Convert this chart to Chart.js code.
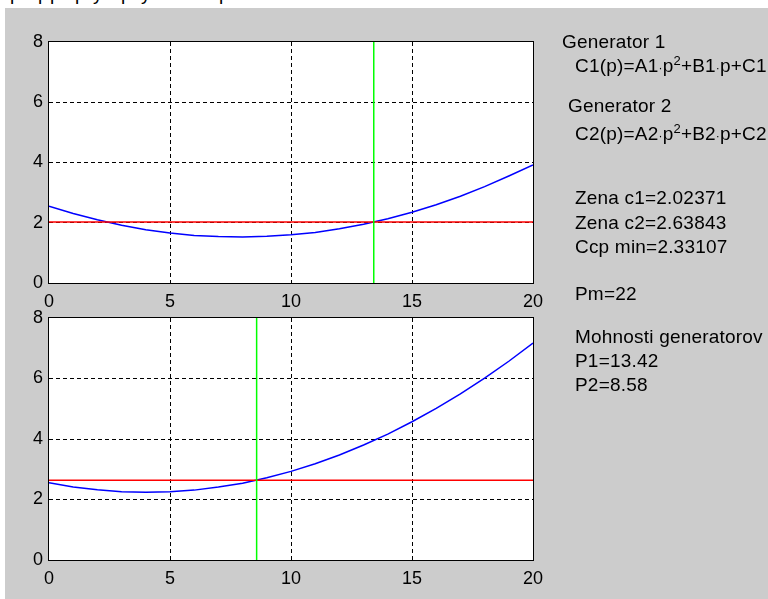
<!DOCTYPE html>
<html><head><meta charset="utf-8">
<script src="https://cdn.jsdelivr.net/npm/chart.js@4.4.1/dist/chart.umd.min.js"></script>
<style>
html,body{margin:0;padding:0;background:#fff;width:768px;height:599px;overflow:hidden;position:relative;}
#bg{position:absolute;left:5px;top:8px;width:763px;height:591px;background:#cccccc;}
canvas{position:absolute;left:0;top:0;}
.t{position:absolute;font-family:Arial,"Liberation Sans",sans-serif;font-size:19px;line-height:19px;letter-spacing:0.2px;color:#000;white-space:nowrap;}
.sup{position:relative;top:-7px;font-size:13px;}
.dot{font-size:12px;}
#cut{position:absolute;left:0;top:0;width:768px;height:8px;overflow:hidden;}
#cut span{position:absolute;top:-16px;font-family:Arial,"Liberation Sans",sans-serif;font-size:19px;line-height:19px;color:#000;}
</style></head><body>
<div id="bg"></div>
<div id="cut"><span style="left:10px">p</span><span style="left:38px">p</span><span style="left:50px">p</span><span style="left:75px">p</span><span style="left:93px">y</span><span style="left:121px">p</span><span style="left:141px">y</span><span style="left:219px">p</span></div>
<canvas id="c1" width="768" height="599" style="width:768px;height:599px"></canvas>
<canvas id="c2" width="768" height="599" style="width:768px;height:599px"></canvas>
<div class="t" style="left:562px;top:32.2px">Generator 1</div>
<div class="t" style="left:575px;top:55.6px">C1(p)=A1<span class="dot">·</span>p<span class="sup">2</span>+B1<span class="dot">·</span>p+C1</div>
<div class="t" style="left:568px;top:95.6px">Generator 2</div>
<div class="t" style="left:575px;top:123.9px">C2(p)=A2<span class="dot">·</span>p<span class="sup">2</span>+B2<span class="dot">·</span>p+C2</div>
<div class="t" style="left:575px;top:188.2px">Zena c1=2.02371</div>
<div class="t" style="left:575px;top:213.2px">Zena c2=2.63843</div>
<div class="t" style="left:575px;top:237.2px">Ccp min=2.33107</div>
<div class="t" style="left:575px;top:283.9px">Pm=22</div>
<div class="t" style="left:575px;top:327.2px">Mohnosti generatorov</div>
<div class="t" style="left:575px;top:350.6px">P1=13.42</div>
<div class="t" style="left:575px;top:374.6px">P2=8.58</div>
<script>
// ---- data ----
const pValues = [0,1,2,3,4,5,6,7,8,9,10,11,12,13,14,15,16,17,18,19,20];
const gen1Cost = [2.55,2.31,2.10,1.92,1.77,1.66,1.58,1.54,1.53,1.55,1.60,1.68,1.80,1.95,2.13,2.35,2.60,2.88,3.20,3.55,3.92];
const gen2Cost = [2.55,2.41,2.32,2.26,2.24,2.26,2.31,2.41,2.54,2.72,2.93,3.18,3.47,3.80,4.16,4.57,5.01,5.49,6.01,6.57,7.17];
const xTicks = [0,5,10,15,20];
const yTicks = [0,2,4,6,8];
const power1 = 13.42, power2 = 8.58;
const price1 = 2.02371, price2 = 2.63843;

Chart.defaults.font.family = 'Arial, "Liberation Sans", sans-serif';
Chart.defaults.font.size = 18;
Chart.defaults.color = '#000';

const areaPlugin = {
  id: 'area',
  beforeDraw(chart) {
    const a = chart.chartArea, ctx = chart.ctx;
    ctx.save(); ctx.fillStyle = '#fff';
    ctx.fillRect(a.left, a.top, a.right - a.left, a.bottom - a.top);
    ctx.restore();
  },
  afterDraw(chart) {
    const a = chart.chartArea, ctx = chart.ctx;
    ctx.save(); ctx.strokeStyle = '#000'; ctx.lineWidth = 1;
    ctx.strokeRect(a.left - 0.5, a.top - 0.5, a.right - a.left + 1, a.bottom - a.top + 1);
    ctx.restore();
  }
};

function gridColor(ctx, lo, hi) {
  const v = ctx.tick ? ctx.tick.value : null;
  return (v === lo || v === hi) ? 'rgba(0,0,0,0)' : '#000';
}

function makeChart(id, costs, power, price, padTop, padBottom) {
  const xMin = xTicks[0], xMax = xTicks[xTicks.length - 1];
  const yMin = yTicks[0], yMax = yTicks[yTicks.length - 1];
  return new Chart(document.getElementById(id), {
    type: 'line',
    data: {
      datasets: [
        { data: pValues.map((p, i) => ({ x: p, y: costs[i] })), borderColor: '#0000ff', borderWidth: 1.5, pointRadius: 0, tension: 0, order: 2 },
        { data: [{ x: xMin, y: price }, { x: xMax, y: price }], borderColor: '#ff0000', borderWidth: 1.5, pointRadius: 0, order: 1 },
        { data: [{ x: power, y: yMin }, { x: power, y: yMax }], borderColor: '#00ff00', borderWidth: 1.5, pointRadius: 0, order: 0 }
      ]
    },
    options: {
      responsive: false, animation: false, events: [],
      layout: { padding: { top: padTop, left: 0, right: 235, bottom: padBottom } },
      plugins: { legend: { display: false }, tooltip: { enabled: false } },
      scales: {
        x: {
          type: 'linear', min: xMin, max: xMax,
          afterBuildTicks: s => { s.ticks = xTicks.map(v => ({ value: v })); },
          afterFit: s => { s.height = 30; },
          ticks: { padding: 8, maxRotation: 0, autoSkip: false, color: '#000' },
          grid: { drawTicks: false, lineWidth: 1, color: c => gridColor(c, xMin, xMax) },
          border: { display: false, dash: [4, 3] }
        },
        y: {
          type: 'linear', min: yMin, max: yMax,
          afterBuildTicks: s => { s.ticks = yTicks.map(v => ({ value: v })); },
          afterFit: s => { s.width = 49; },
          ticks: { padding: 6, autoSkip: false, color: '#000' },
          grid: { drawTicks: false, lineWidth: 1, color: c => gridColor(c, yMin, yMax) },
          border: { display: false, dash: [4, 3] }
        }
      }
    },
    plugins: [areaPlugin]
  });
}

makeChart('c1', gen1Cost, power1, price1, 42, 599 - 283 - 30);
makeChart('c2', gen2Cost, power2, price2, 318, 599 - 560 - 30);
</script>
</body></html>
